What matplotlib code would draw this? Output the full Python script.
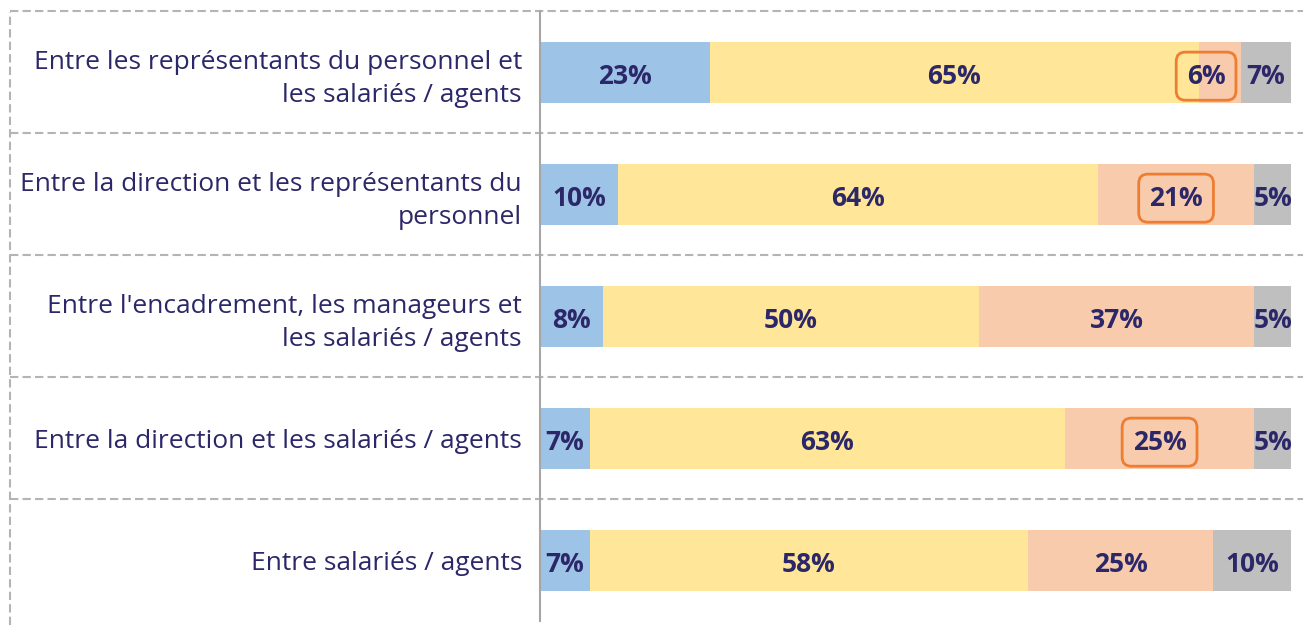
import matplotlib.pyplot as plt
import numpy as np

plt.rcParams['font.family'] = ['Open Sans', 'DejaVu Sans']

categories = [
    "Entre les représentants du personnel et\nles salariés / agents",
    "Entre la direction et les représentants du\npersonnel",
    "Entre l'encadrement, les manageurs et\nles salariés / agents",
    "Entre la direction et les salariés / agents",
    "Entre salariés / agents",
]
# shares (labels are the rounded values)
blue = [22.6, 10.4, 8.4, 6.6, 6.6]
yellow = [65.1, 63.9, 50.0, 63.3, 58.4]
peach = [5.6, 20.8, 36.7, 25.2, 24.6]
grey = [6.7, 4.9, 4.9, 4.9, 10.4]
labels = [
    ["23%", "65%", "6%", "7%"],
    ["10%", "64%", "21%", "5%"],
    ["8%", "50%", "37%", "5%"],
    ["7%", "63%", "25%", "5%"],
    ["7%", "58%", "25%", "10%"],
]
# peach labels circled in orange
circled = [True, True, False, True, False]

colors = ['#9DC3E6', '#FFE699', '#F8CBAD', '#BFBFBF']
navy = '#2B2768'
orange = '#ED7D31'
line_grey = '#B4B4B4'

W, H = 1303, 625
fig = plt.figure(figsize=(W / 100, H / 100), dpi=100)
ax = fig.add_axes([540 / W, 1 - 621 / H, (1291 - 540) / W, (621 - 11) / H])

series = [blue, yellow, peach, grey]
y = np.arange(len(categories))
left = np.zeros(len(categories))
for k, vals in enumerate(series):
    vals = np.array(vals)
    ax.barh(y, vals, left=left, height=0.5, color=colors[k], edgecolor='none')
    for i in range(len(categories)):
        txt = labels[i][k]
        box = None
        xy = (left[i] + vals[i] / 2, y[i])
        off = (0, -3)
        ha = 'center'
        if k == 2 and circled[i]:
            box = dict(boxstyle='round,pad=0.4,rounding_size=0.35',
                       facecolor='none', edgecolor=orange, linewidth=2)
            if vals[i] < 10:
                # narrow segment: label pushed inside, to the left of its end
                xy = (left[i] + vals[i], y[i])
                off = (-11, -3)
                ha = 'right'
        ax.annotate(txt, xy, xytext=off, textcoords='offset points',
                    ha=ha, va='center', fontsize=19, fontweight='bold',
                    color=navy, bbox=box)
    left += vals

ax.set_xlim(0, 100)
ax.set_ylim(len(categories) - 0.5, -0.5)
ax.set_yticks(y)
ax.set_yticklabels(categories, fontsize=19, color=navy, linespacing=1.4)
ax.tick_params(axis='y', length=0, pad=13)
ax.set_xticks([])

for s in ['top', 'right', 'bottom']:
    ax.spines[s].set_visible(False)
ax.spines['left'].set_color('#A6A6A6')
ax.spines['left'].set_linewidth(1.5)

# dashed row separators and outer frame
x0 = (10 - 540) / (1291 - 540)
x1 = (1303 - 540) / (1291 - 540)
for b in np.arange(-0.5, len(categories) - 0.5):
    ax.axhline(b, xmin=x0, xmax=x1, color=line_grey, linewidth=1.5,
               linestyle=(0, (4, 2)), clip_on=False)
fig.add_artist(plt.Line2D([10 / W, 10 / W], [0, 1 - 12 / H], color=line_grey,
                          linewidth=1.5, linestyle=(0, (4, 2))))

fig.savefig('out.png', dpi=100)
